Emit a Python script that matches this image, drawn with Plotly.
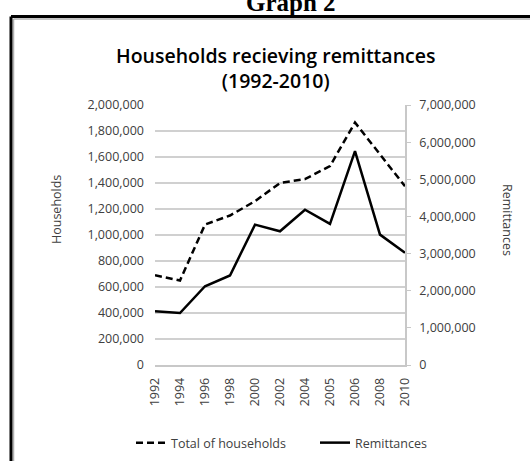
import plotly.graph_objects as go

# values
years = ['1992', '1994', '1996', '1998', '2000', '2002', '2004', '2005', '2006', '2008', '2010']
households = [690000, 650000, 1080000, 1150000, 1260000, 1400000, 1430000, 1530000, 1865000, 1620000, 1375000]
remittances = [1450000, 1400000, 2120000, 2410000, 3780000, 3600000, 4180000, 3800000, 5760000, 3510000, 3020000]

W, H = 530, 461
L, R, T, B = 155, 125, 105, 96
pw, ph = W - L - R, H - T - B


def px(x):
    """pixel x -> paper x"""
    return (x - L) / pw


def py(y):
    """pixel y (from top) -> paper y"""
    return (H - B - y) / ph


font = 'Open Sans'
grey = '#404040'
fs = 12.5

fig = go.Figure()
fig.add_trace(go.Scatter(x=years, y=households, name='Total of households', mode='lines',
                         legend='legend', line=dict(color='black', width=2.5, dash='7px,4px')))
fig.add_trace(go.Scatter(x=years, y=remittances, name='Remittances', mode='lines', yaxis='y2',
                         legend='legend2', line=dict(color='black', width=2.5)))

leg = dict(orientation='h', xanchor='left', yanchor='middle', y=py(443),
           font=dict(size=fs, color=grey), itemwidth=30, bgcolor='rgba(0,0,0,0)')

fig.update_layout(
    width=W, height=H,
    margin=dict(l=L, r=R, t=T, b=B, autoexpand=False),
    paper_bgcolor='white', plot_bgcolor='white',
    font=dict(family=font, color=grey, size=fs),
    showlegend=True,
    legend=dict(leg, x=px(131)),
    legend2=dict(leg, x=px(315)),
    xaxis=dict(type='category', showline=True, linecolor='#c8c8c8', linewidth=1.5,
               tickangle=-90, showgrid=False, ticks='', ticklabelstandoff=6,
               tickfont=dict(size=fs, color=grey)),
    yaxis=dict(range=[0, 2000000], dtick=200000, tickformat=',', showgrid=True,
               gridcolor='#d0d0d0', gridwidth=1.5, zeroline=False, ticks='',
               ticklabelstandoff=10, tickfont=dict(size=fs, color=grey)),
    yaxis2=dict(range=[0, 7000000], dtick=1000000, tickformat=',', overlaying='y', side='right',
                showgrid=False, zeroline=False, showline=True, linecolor='#c8c8c8', linewidth=1.5,
                ticks='outside', ticklen=4, tickcolor='#c8c8c8', ticklabelstandoff=6,
                tickfont=dict(size=fs, color=grey)),
)

annotations = [
    dict(text='Households recieving remittances<br>(1992-2010)', x=px(275), y=py(68),
         font=dict(size=19.5, color='black', family=font, weight=600)),
    dict(text='Households', x=px(56), y=py(210), textangle=-90,
         font=dict(size=fs, color=grey)),
    dict(text='Remittances', x=px(508), y=py(220), textangle=90,
         font=dict(size=fs, color=grey)),
    dict(text='<b>Graph 2</b>', x=px(291), y=py(2),
         font=dict(size=25, color='black', family='Liberation Serif')),
]
for a in annotations:
    a.update(xref='paper', yref='paper', showarrow=False, xanchor='center', yanchor='middle')
fig.update_layout(annotations=annotations)

# frame around the chart (black with a grey inner edge), open to the right and bottom
fig.add_shape(type='line', xref='paper', yref='paper', x0=px(13.5), x1=px(W + 5), y0=py(19), y1=py(19),
              line=dict(color='#b0b0b0', width=1.5))
fig.add_shape(type='line', xref='paper', yref='paper', x0=px(13.5), x1=px(13.5), y0=py(19), y1=py(H + 5),
              line=dict(color='#b0b0b0', width=1.5))
fig.add_shape(type='line', xref='paper', yref='paper', x0=px(11), x1=px(W + 5), y0=py(16.5), y1=py(16.5),
              line=dict(color='black', width=3))
fig.add_shape(type='line', xref='paper', yref='paper', x0=px(11), x1=px(11), y0=py(16.5), y1=py(H + 5),
              line=dict(color='black', width=3))

# page body has a default 8px margin; drop it so the figure sits at the window's corner
fig.write_html('out.html', config={'displayModeBar': False},
               post_script="document.body.style.margin = '0';")
